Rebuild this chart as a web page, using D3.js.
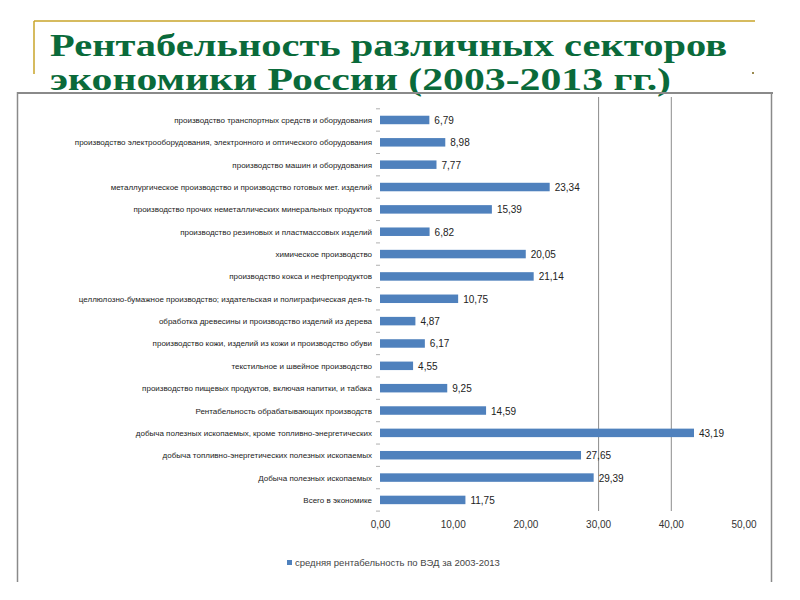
<!DOCTYPE html>
<html><head><meta charset="utf-8">
<script src="https://cdn.jsdelivr.net/npm/d3@7"></script>
<style>body{margin:0;background:#fff;} svg{display:block;}</style>
</head><body>
<script>
const categories = [
 "производство транспортных средств и оборудования",
 "производство электрооборудования, электронного и оптического оборудования",
 "производство машин и оборудования",
 "металлургическое производство и производство готовых мет. изделий",
 "производство прочих неметаллических минеральных продуктов",
 "производство резиновых и пластмассовых изделий",
 "химическое производство",
 "производство кокса и нефтепродуктов",
 "целлюлозно-бумажное производство; издательская и полиграфическая дея-ть",
 "обработка древесины и производство изделий из дерева",
 "производство кожи, изделий из кожи и производство обуви",
 "текстильное и швейное производство",
 "производство пищевых продуктов, включая напитки, и табака",
 "Рентабельность обрабатывающих производств",
 "добыча полезных ископаемых, кроме топливно-энергетических",
 "добыча топливно-энергетических полезных ископаемых",
 "Добыча полезных ископаемых",
 "Всего в экономике"
];
const values = [6.79, 8.98, 7.77, 23.34, 15.39, 6.82, 20.05, 21.14, 10.75, 4.87, 6.17, 4.55, 9.25, 14.59, 43.19, 27.65, 29.39, 11.75];
const xTicks = [0, 10, 20, 30, 40, 50];
const gridTicks = [30, 40];
const seriesName = "средняя рентабельность по ВЭД за 2003-2013";
const titleLines = ["Рентабельность различных секторов", "экономики России (2003-2013 гг.)"];

const W = 800, H = 600;
const svg = d3.select("body").append("svg").attr("width", W).attr("height", H);

// slide decoration
svg.append("line").attr("x1", 34).attr("x2", 755).attr("y1", 21).attr("y2", 21).attr("stroke", "#c9a42a").attr("stroke-width", 1.5);
svg.append("line").attr("x1", 34).attr("x2", 34).attr("y1", 21).attr("y2", 74).attr("stroke", "#c9a42a").attr("stroke-width", 1.5);
svg.append("rect").attr("x", 752).attr("y", 72).attr("width", 2).attr("height", 2).attr("fill", "#9a8a50");

// title
const tl = [[56, 677], [90, 621]];
titleLines.forEach((t, i) => {
  svg.append("text").attr("x", 50).attr("y", tl[i][0]).text(t)
    .attr("font-family", "Liberation Serif").attr("font-weight", "bold").attr("font-size", 32)
    .attr("fill", "#0a6a3a").attr("textLength", tl[i][1]).attr("lengthAdjust", "spacingAndGlyphs");
});

// chart frame
svg.append("line").attr("x1", 17).attr("x2", 773).attr("y1", 93).attr("y2", 93).attr("stroke", "#8a8a8a").attr("stroke-width", 2);
svg.append("line").attr("x1", 17.5).attr("x2", 17.5).attr("y1", 92).attr("y2", 582).attr("stroke", "#8a8a8a").attr("stroke-width", 1.5);
svg.append("line").attr("x1", 771.5).attr("x2", 771.5).attr("y1", 92).attr("y2", 582).attr("stroke", "#8a8a8a").attr("stroke-width", 1.5);

const x = d3.scaleLinear().domain([0, 50]).range([380, 743.5]);
const y = d3.scaleBand().domain(categories).range([108.8, 511.1]).paddingInner(0.62).paddingOuter(0.31);

// gridlines
svg.append("g").selectAll("line").data(gridTicks).join("line")
  .attr("x1", d => x(d) + 0.5).attr("x2", d => x(d) + 0.5).attr("y1", 97).attr("y2", 511)
  .attr("stroke", "#8c8c8c").attr("stroke-width", 1);

// category boundary ticks
const bounds = categories.map(c => y(c) - y.step() * y.paddingInner() / 2).concat([y(categories[categories.length - 1]) + y.bandwidth() + y.step() * y.paddingInner() / 2]);
svg.append("g").selectAll("line").data(bounds).join("line")
  .attr("x1", 376).attr("x2", 380).attr("y1", d => d).attr("y2", d => d)
  .attr("stroke", "#b0b0b0").attr("stroke-width", 1);

// bars
svg.append("g").selectAll("rect").data(values).join("rect")
  .attr("x", x(0)).attr("y", (d, i) => y(categories[i]))
  .attr("width", d => x(d) - x(0)).attr("height", y.bandwidth())
  .attr("fill", "#4f81bd");

// value labels
svg.append("g").selectAll("text").data(values).join("text")
  .attr("x", d => x(d) + 5).attr("y", (d, i) => y(categories[i]) + y.bandwidth() / 2 + 4)
  .text(d => d.toFixed(2).replace(".", ","))
  .attr("font-family", "Liberation Sans, Arial").attr("font-size", 10).attr("fill", "#222");

// category labels
svg.append("g").selectAll("text").data(categories).join("text")
  .attr("x", 372).attr("y", d => y(d) + y.bandwidth() / 2 + 3)
  .attr("text-anchor", "end").text(d => d)
  .attr("font-family", "Liberation Sans, Arial").attr("font-size", 8).attr("fill", "#222");

// x axis tick labels
const xAxis = d3.axisBottom(x).tickValues(xTicks).tickSize(0).tickFormat(d => d.toFixed(2).replace(".", ","));
const gx = svg.append("g").attr("transform", "translate(0,518)").call(xAxis);
gx.select(".domain").remove();
gx.selectAll("text").attr("font-family", "Liberation Sans, Arial").attr("font-size", 10).attr("fill", "#333");

// legend
svg.append("rect").attr("x", 287).attr("y", 560).attr("width", 5).attr("height", 5).attr("fill", "#4f81bd");
svg.append("text").attr("x", 295).attr("y", 566).text(seriesName)
  .attr("font-family", "Liberation Sans, Arial").attr("font-size", 9.5).attr("fill", "#444");
</script>
</body></html>
